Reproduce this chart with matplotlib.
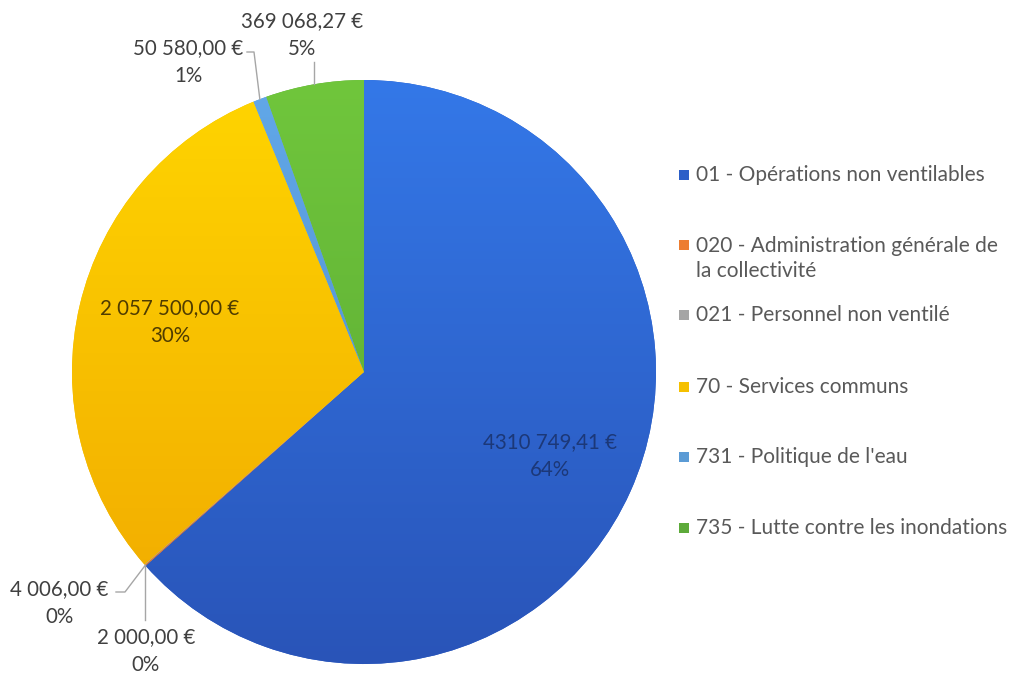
import numpy as np
import matplotlib
matplotlib.use('Agg')
import matplotlib.pyplot as plt
from matplotlib.colors import LinearSegmentedColormap

# data
categories = ['01 - Opérations non ventilables',
              '020 - Administration générale de\nla collectivité',
              '021 - Personnel non ventilé',
              '70 - Services communs',
              "731 - Politique de l'eau",
              '735 - Lutte contre les inondations']
amounts = [4310749.41, 4006.00, 2000.00, 2057500.00, 50580.00, 369068.27]
amount_labels = ['4310 749,41 €', '4 006,00 €', '2 000,00 €', '2 057 500,00 €', '50 580,00 €', '369 068,27 €']
legend_colors = ['#2C5FC8', '#ED7D31', '#A5A5A5', '#F5C000', '#5B9BD5', '#5DAA3A']
# gradient (top, bottom) for each slice
grad_colors = [('#3478E8', '#2954B8'), ('#F08A40', '#E07020'), ('#B0B0B0', '#989898'),
               ('#FFD500', '#F0A800'), ('#62A8E8', '#4A88C8'), ('#70C63C', '#58A532')]

plt.rcParams['font.family'] = ['Lato', 'DejaVu Sans']

W, H = 1016, 677
fig = plt.figure(figsize=(W / 100, H / 100), dpi=100)
ax = fig.add_axes([0, 0, 1, 1])

cx, cy, r = 364, H - 372, 292
wedges, _ = ax.pie(amounts, center=(cx, cy), radius=r, startangle=90, counterclock=False,
                   colors=legend_colors, frame=True)

# gradient fill clipped to each wedge
yy = np.linspace(0, 1, 256).reshape(-1, 1)
for w, (top, bot) in zip(wedges, grad_colors):
    cmap = LinearSegmentedColormap.from_list('g', [bot, top])
    im = ax.imshow(np.tile(yy, (1, 2)), cmap=cmap, origin='lower', aspect='auto',
                   extent=[cx - r, cx + r, cy - r, cy + r], zorder=2)
    im.set_clip_path(w)
    w.set_zorder(1)
ax.set_xlim(0, W)
ax.set_ylim(0, H)
ax.set_aspect('equal')
ax.axis('off')

# percentages rounded so they add up to 100 (largest remainder)
total = sum(amounts)
raw = [100 * a / total for a in amounts]
pct = [int(np.floor(v)) for v in raw]
order = sorted(range(len(raw)), key=lambda i: raw[i] - pct[i], reverse=True)
for i in order[:100 - sum(pct)]:
    pct[i] += 1
texts = [f'{l}\n{p}%' for l, p in zip(amount_labels, pct)]

# wedge mid points on the rim
mids = [np.deg2rad((w.theta1 + w.theta2) / 2) for w in wedges]
edge = [(cx + r * np.cos(m), cy + r * np.sin(m)) for m in mids]

fs = 14.8
ls = 1.45
tcol = '#404040'
# inside labels
ax.text(550, H - 456, texts[0], ha='center', va='center', fontsize=fs, color='#1C3878',
        linespacing=ls, zorder=5)
ax.text(170, H - 322, texts[3], ha='center', va='center', fontsize=fs, color='#4F3C00',
        linespacing=ls, zorder=5)

# outside labels with leader lines
lc = '#A6A6A6'
# 020
ax.text(59, H - 603, texts[1], ha='center', va='center', fontsize=fs, color=tcol, linespacing=ls)
ax.plot([edge[1][0], 125, 116], [edge[1][1], H - 592, H - 592], color=lc, lw=1)
# 021
ax.text(146, H - 651, texts[2], ha='center', va='center', fontsize=fs, color=tcol, linespacing=ls)
ax.plot([edge[2][0], edge[2][0]], [edge[2][1], H - 620], color=lc, lw=1)
# 731
ax.text(188, H - 62, texts[4], ha='center', va='center', fontsize=fs, color=tcol, linespacing=ls)
ax.plot([247, 254, edge[4][0]], [H - 52, H - 52, edge[4][1]], color=lc, lw=1)
# 735
ax.text(302, H - 35, texts[5], ha='center', va='center', fontsize=fs, color=tcol, linespacing=ls)
ax.plot([edge[5][0], edge[5][0]], [edge[5][1], H - 62], color=lc, lw=1)

# legend (y of first text line for each entry)
leg_y = [175, 245, 315, 387, 457, 528]
for lab, col, y in zip(categories, legend_colors, leg_y):
    ax.scatter([684], [H - y], marker='s', s=55, color=col, linewidths=0)
    nl = lab.count('\n')
    ax.text(696, H - y - nl * 13.5, lab, ha='left', va='center',
            fontsize=15, color='#595959', linespacing=1.3)

fig.savefig('out.png', dpi=100)
